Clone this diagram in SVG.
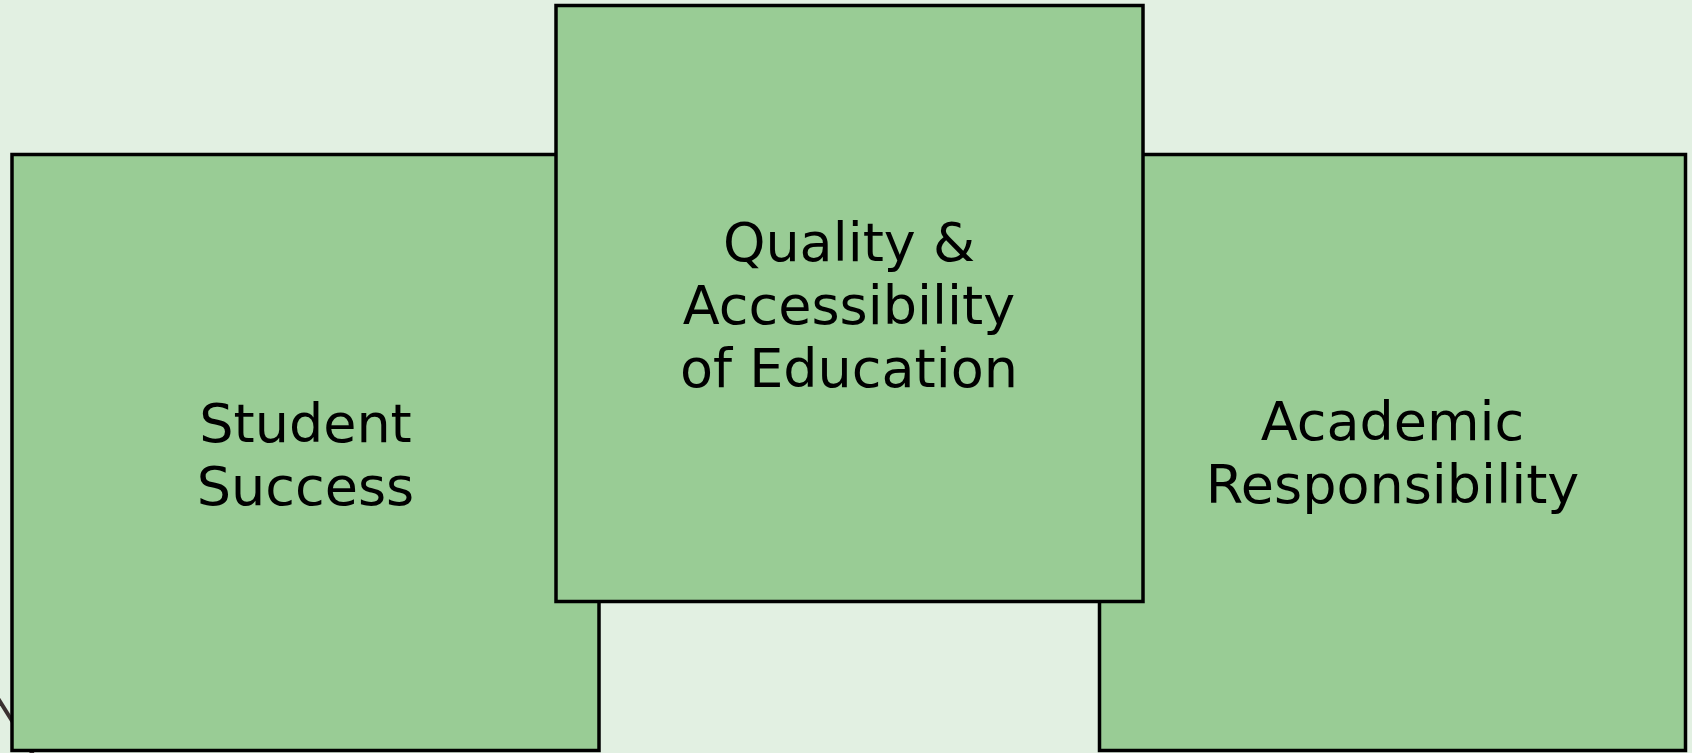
<svg xmlns="http://www.w3.org/2000/svg" width="1692" height="753" viewBox="0 0 1692 753">
<style>
.box{fill:#99cc95;stroke:#000;stroke-width:3.5}
.lbl{font-family:"DejaVu Sans",sans-serif;font-size:54px;fill:#000;text-anchor:middle}
.conn{stroke:#3b3131;stroke-width:4;fill:none}
</style>
<rect x="0" y="0" width="1692" height="753" fill="#e2f0e2"/>
<g id="connectors">
<line class="conn" x1="-6" y1="692" x2="34" y2="756"/>
</g>
<g id="student-success">
<rect class="box" x="12" y="154.5" width="587" height="596"/>
<text class="lbl" x="305.5" y="442">Student</text>
<text class="lbl" x="305.5" y="505">Success</text>
</g>
<g id="academic-responsibility">
<rect class="box" x="1099.5" y="154.5" width="586" height="596"/>
<text class="lbl" x="1392.5" y="440">Academic</text>
<text class="lbl" x="1392.5" y="503">Responsibility</text>
</g>
<g id="quality-accessibility">
<rect class="box" x="556" y="5.5" width="587" height="596"/>
<text class="lbl" x="849" y="261">Quality &amp;</text>
<text class="lbl" x="849" y="324">Accessibility</text>
<text class="lbl" x="849" y="387">of Education</text>
</g>
</svg>
